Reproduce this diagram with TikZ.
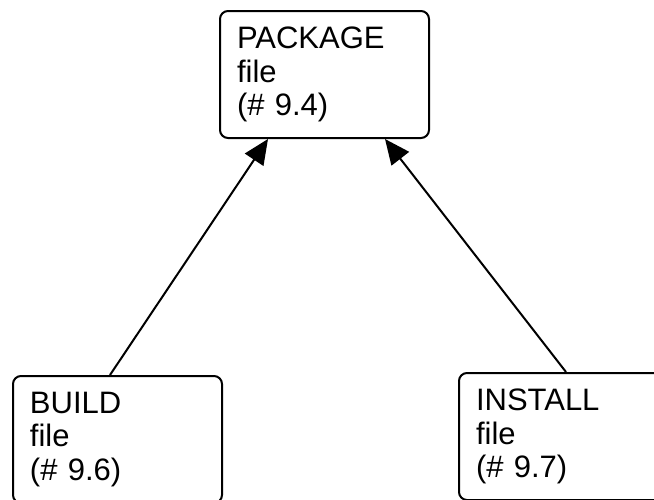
\documentclass[tikz,border=0pt]{standalone}
\usepackage{fontspec}
\setmainfont{Liberation Sans}
\usetikzlibrary{arrows.meta,calc}
\tikzset{
  filebox/.style={draw=black, line width=2pt, rounded corners=8pt, fill=white,
    minimum width=209pt, minimum height=127pt, text width=175pt, align=left,
    inner sep=0pt, font=\fontsize{31}{33.5}\selectfont, anchor=north west},
  dep/.style={line width=2pt, -{Triangle[length=25pt,width=22pt]}}
}
\begin{document}
\begin{tikzpicture}[x=1pt,y=-1pt]
\useasboundingbox[fill=white] (0,0) rectangle (654,499);
\node[filebox] (pkg) at (219,10) {PACKAGE\\file\\(\# 9.4)};
\node[filebox] (build) at (12,375) {BUILD\\file\\(\# 9.6)};
\node[filebox] (install) at (458,372) {INSTALL\\file\\(\# 9.7)};
\draw[dep] ([xshift=98pt]build.north west) -- ([xshift=49pt]pkg.south west);
\draw[dep] ([xshift=108pt]install.north west) -- ([xshift=-45pt]pkg.south east);
\end{tikzpicture}
\end{document}
